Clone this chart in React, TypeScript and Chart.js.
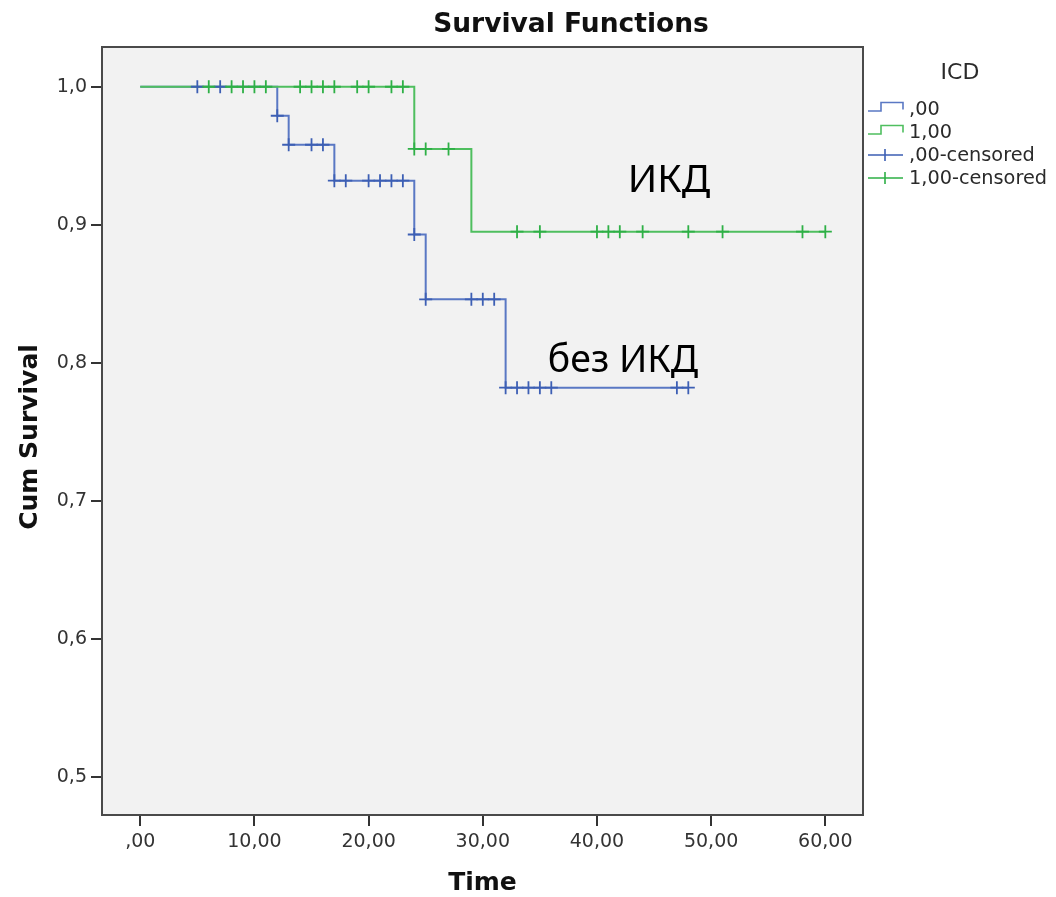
import React, { useEffect, useRef } from "react";
import { Chart, registerables } from "chart.js";

Chart.register(...registerables);

// ---------- data ----------
const chartTitle = "Survival Functions";
const xTitle = "Time";
const yTitle = "Cum Survival";
const legendTitle = "ICD";
const seriesLabels = [",00", "1,00", ",00-censored", "1,00-censored"];
const annotationLabels = ["ИКД", "без ИКД"];

// group ",00" (no ICD) – Kaplan–Meier steps
const noIcdTimes = [0, 12, 13, 17, 24, 25, 32, 48];
const noIcdSurv = [1.0, 0.979, 0.958, 0.932, 0.893, 0.846, 0.782, 0.782];
const noIcdCensored = [5, 7, 12, 13, 15, 16, 17, 18, 20, 21, 22, 23, 24, 25, 29, 30, 31, 32, 33, 34, 35, 36, 47, 48];

// group "1,00" (ICD)
const icdTimes = [0, 24, 29, 60];
const icdSurv = [1.0, 0.955, 0.895, 0.895];
const icdCensored = [6, 8, 9, 10, 11, 14, 15, 16, 17, 19, 20, 22, 23, 24, 25, 27, 33, 35, 40, 41, 42, 44, 48, 51, 58, 60];

const xTickValues = [0, 10, 20, 30, 40, 50, 60];
const xTickLabels = [",00", "10,00", "20,00", "30,00", "40,00", "50,00", "60,00"];
const yTickValues = [0.5, 0.6, 0.7, 0.8, 0.9, 1.0];
const yTickLabels = ["0,5", "0,6", "0,7", "0,8", "0,9", "1,0"];

// ---------- helpers ----------
function survivalAt(times: number[], surv: number[], t: number): number {
  let v = surv[0];
  for (let i = 0; i < times.length; i++) {
    if (times[i] <= t) v = surv[i];
  }
  return v;
}

const FONT = "DejaVu Sans";
const BLUE_LINE = "#5a78c4";
const BLUE_MARK = "#3d5fb4";
const GREEN_LINE = "#4fbf5f";
const GREEN_MARK = "#2eb046";
const TEXT = "#2a2a2a";

export default function App() {
  const canvasRef = useRef<HTMLCanvasElement | null>(null);

  useEffect(() => {
    const canvas = canvasRef.current;
    if (!canvas) return;

    const decor = {
      id: "decor",
      beforeDraw(chart: any) {
        const { ctx, chartArea } = chart;
        ctx.save();
        ctx.fillStyle = "#ffffff";
        ctx.fillRect(0, 0, chart.width, chart.height);
        ctx.fillStyle = "#f2f2f2";
        ctx.fillRect(chartArea.left, chartArea.top, chartArea.right - chartArea.left, chartArea.bottom - chartArea.top);
        ctx.restore();
      },
      afterDraw(chart: any) {
        const { ctx, chartArea, scales } = chart;
        ctx.save();
        // frame
        ctx.strokeStyle = "#4a4a4a";
        ctx.lineWidth = 2;
        ctx.strokeRect(chartArea.left, chartArea.top, chartArea.right - chartArea.left, chartArea.bottom - chartArea.top);

        // title
        ctx.fillStyle = "#111";
        ctx.textAlign = "center";
        ctx.textBaseline = "middle";
        ctx.font = `bold 26.5px ${FONT}`;
        ctx.fillText(chartTitle, 571, 25);

        // axis titles
        ctx.font = `bold 25px ${FONT}`;
        ctx.fillText(xTitle, (chartArea.left + chartArea.right) / 2, 883);
        ctx.save();
        ctx.translate(30, (chartArea.top + chartArea.bottom) / 2 + 6);
        ctx.rotate(-Math.PI / 2);
        ctx.fillText(yTitle, 0, 0);
        ctx.restore();

        // legend
        const lx = chartArea.right + 5;
        ctx.fillStyle = TEXT;
        ctx.font = `22px ${FONT}`;
        ctx.textAlign = "center";
        ctx.fillText(legendTitle, 960, 73);
        const rows = [109, 132, 155, 178];
        const colors = [BLUE_LINE, GREEN_LINE, BLUE_MARK, GREEN_MARK];
        ctx.font = `19.3px ${FONT}`;
        ctx.textAlign = "left";
        rows.forEach((y, i) => {
          ctx.strokeStyle = colors[i];
          ctx.lineWidth = 1.6;
          ctx.beginPath();
          if (i < 2) {
            ctx.moveTo(lx, y + 2);
            ctx.lineTo(lx + 13, y + 2);
            ctx.lineTo(lx + 13, y - 6.5);
            ctx.lineTo(lx + 35, y - 6.5);
            ctx.lineTo(lx + 35, y + 0.5);
          } else {
            ctx.moveTo(lx, y);
            ctx.lineTo(lx + 35, y);
            ctx.moveTo(lx + 17, y - 6);
            ctx.lineTo(lx + 17, y + 6);
          }
          ctx.stroke();
          ctx.fillStyle = TEXT;
          ctx.fillText(seriesLabels[i], lx + 41, y + 1);
        });

        // in-plot annotations
        ctx.fillStyle = "#000";
        ctx.textAlign = "left";
        ctx.textBaseline = "alphabetic";
        ctx.font = `39px "Noto Sans"`;
        ctx.fillText(annotationLabels[0], scales.x.getPixelForValue(42.7), scales.y.getPixelForValue(0.924));
        ctx.font = `37.5px "Noto Sans"`;
        ctx.fillText(annotationLabels[1], scales.x.getPixelForValue(35.7), scales.y.getPixelForValue(0.7935));
        ctx.restore();
      },
    };

    const chart = new Chart(canvas, {
      type: "scatter",
      data: {
        datasets: [
          {
            label: seriesLabels[2],
            data: noIcdCensored.map((t) => ({ x: t, y: survivalAt(noIcdTimes, noIcdSurv, t) })),
            showLine: false,
            pointStyle: "cross",
            pointRadius: 6.5,
            pointBorderWidth: 1.8,
            borderColor: BLUE_MARK,
            backgroundColor: BLUE_MARK,
            order: 1,
          },
          {
            label: seriesLabels[3],
            data: icdCensored.map((t) => ({ x: t, y: survivalAt(icdTimes, icdSurv, t) })),
            showLine: false,
            pointStyle: "cross",
            pointRadius: 6.5,
            pointBorderWidth: 1.8,
            borderColor: GREEN_MARK,
            backgroundColor: GREEN_MARK,
            order: 0,
          },
          {
            label: seriesLabels[1],
            data: icdTimes.map((t, i) => ({ x: t, y: icdSurv[i] })),
            showLine: true,
            stepped: "before",
            pointRadius: 0,
            borderWidth: 2,
            borderColor: GREEN_LINE,
            backgroundColor: GREEN_LINE,
            order: 2,
          },
          {
            label: seriesLabels[0],
            data: noIcdTimes.map((t, i) => ({ x: t, y: noIcdSurv[i] })),
            showLine: true,
            stepped: "before",
            pointRadius: 0,
            borderWidth: 2,
            borderColor: BLUE_LINE,
            backgroundColor: BLUE_LINE,
            order: 3,
          },
        ],
      } as any,
      options: {
        animation: false,
        responsive: false,
        devicePixelRatio: 1,
        layout: { padding: { top: 47, right: 193, left: 0, bottom: 0 } },
        plugins: {
          legend: { display: false },
          title: { display: false },
          tooltip: { enabled: false },
        },
        scales: {
          x: {
            type: "linear",
            min: -3.35,
            max: 63.3,
            afterBuildTicks: (scale: any) => {
              scale.ticks = xTickValues.map((v) => ({ value: v }));
            },
            afterFit: (scale: any) => {
              scale.height = 82;
            },
            ticks: {
              autoSkip: false,
              maxRotation: 0,
              padding: 5,
              color: "#333",
              font: { family: FONT, size: 19 },
              callback: (v: any) => xTickLabels[xTickValues.indexOf(Number(v))] ?? "",
            },
            grid: {
              display: true,
              drawOnChartArea: false,
              drawTicks: true,
              tickLength: 11,
              color: "#333",
              lineWidth: 2,
            },
            border: { display: false },
          },
          y: {
            type: "linear",
            min: 0.4725,
            max: 1.0288,
            afterBuildTicks: (scale: any) => {
              scale.ticks = yTickValues.map((v) => ({ value: v }));
            },
            afterFit: (scale: any) => {
              scale.width = 102;
            },
            ticks: {
              autoSkip: false,
              padding: 4,
              color: "#333",
              font: { family: FONT, size: 19 },
              callback: (v: any) => {
                const idx = yTickValues.findIndex((y) => Math.abs(y - Number(v)) < 1e-9);
                return idx >= 0 ? yTickLabels[idx] : "";
              },
            },
            grid: {
              display: true,
              drawOnChartArea: false,
              drawTicks: true,
              tickLength: 11,
              color: "#333",
              lineWidth: 2,
            },
            border: { display: false },
          },
        },
      } as any,
      plugins: [decor],
    });

    return () => {
      chart.destroy();
    };
  }, []);

  return (
    <div style={{ position: "fixed", left: 0, top: 0, width: 1056, height: 897, background: "#fff" }}>
      <canvas ref={canvasRef} width={1056} height={897} style={{ display: "block" }} />
    </div>
  );
}
